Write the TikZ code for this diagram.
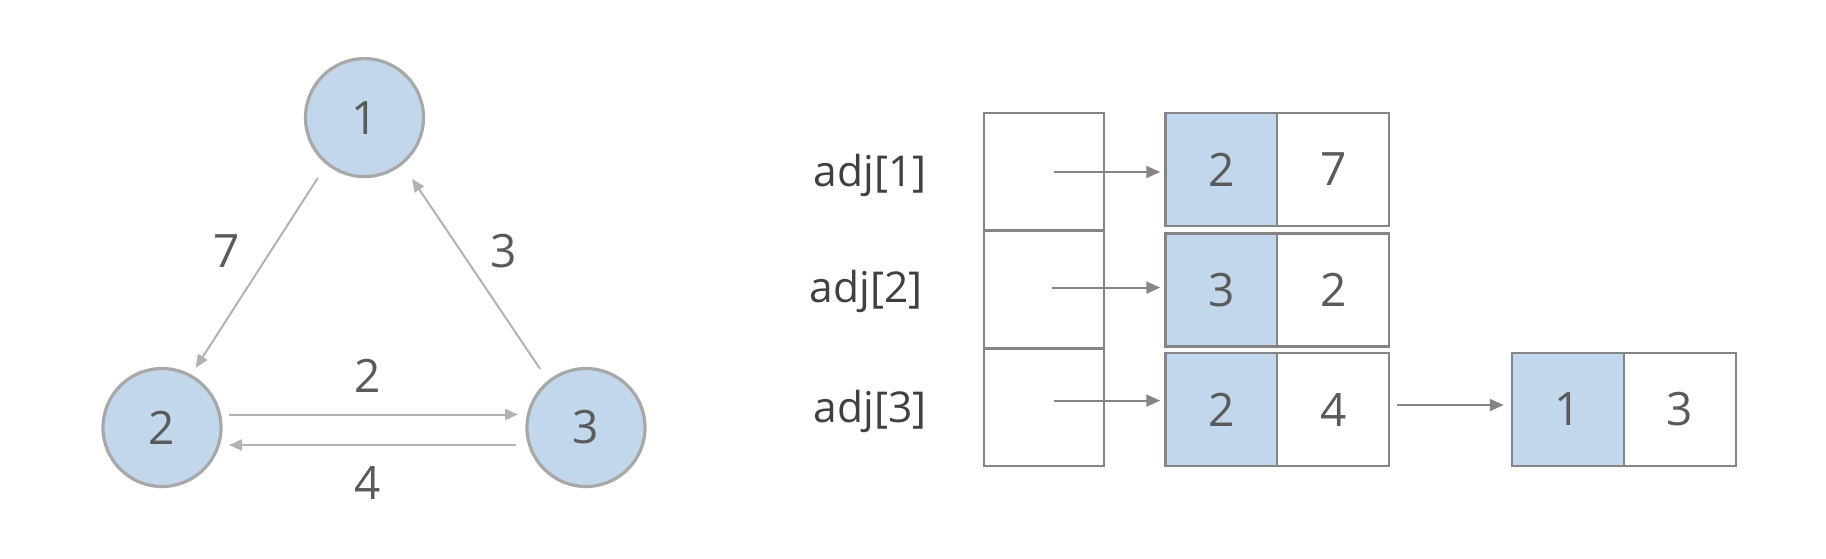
\documentclass[tikz,border=0pt]{standalone}
\usepackage{fontspec}
\setmainfont{Open Sans}
\usetikzlibrary{arrows.meta}
\definecolor{cfill}{HTML}{C3D7EC}
\definecolor{cdraw}{HTML}{A8A8A8}
\definecolor{edgec}{HTML}{B2B2B2}
\definecolor{boxc}{HTML}{858585}
\definecolor{txtc}{HTML}{5A5A5A}
\definecolor{lblc}{HTML}{404040}
\tikzset{
  gnode/.style={circle,draw=cdraw,fill=cfill,line width=3.2pt,minimum size=118pt,inner sep=0pt,
    text=txtc,font=\fontsize{46}{52}\selectfont},
  gedge/.style={draw=edgec,line width=2pt,-{Triangle[length=13pt,width=11pt]}},
  wlabel/.style={text=txtc,font=\fontsize{46}{52}\selectfont,inner sep=0pt},
  headbox/.style={rectangle,draw=boxc,line width=2.5pt,minimum width=120pt,minimum height=117.5pt,inner sep=0pt},
  cellA/.style={rectangle,draw=boxc,fill=cfill,line width=2.5pt,minimum width=112pt,minimum height=113pt,inner sep=0pt,
    text=txtc,font=\fontsize{46}{52}\selectfont},
  cellB/.style={cellA,fill=white},
  larrow/.style={draw=boxc,line width=2pt,-{Triangle[length=14pt,width=12pt]}},
  adjlabel/.style={text=lblc,font=\fontsize{42.5}{48}\selectfont,inner sep=0pt}
}
\begin{document}
\begin{tikzpicture}[x=1pt,y=-1pt]
\useasboundingbox (0,0) rectangle (1826,558);
% graph
\node[gnode] (n1) at (364.5,117.6) {1};
\node[gnode] (n2) at (162,427.5) {2};
\node[gnode] (n3) at (586,427.5) {3};
\draw[gedge,shorten <=16pt,shorten >=8pt] (n1.231) -- (n2.61);
\draw[gedge,shorten <=14pt,shorten >=17pt] (n3.129) -- (n1.309);
\draw[gedge] ([xshift=67pt,yshift=13pt]n2.center) -- ([xshift=-68pt,yshift=13pt]n3.center);
\draw[gedge] ([xshift=-70pt,yshift=-17.5pt]n3.center) -- ([xshift=67pt,yshift=-17.5pt]n2.center);
\node[wlabel] (w7) at (227,251.5) {7};
\node[wlabel] (w3) at (504,251.5) {3};
\node[wlabel] (w2) at (368,376) {2};
\node[wlabel] (w4) at (368,483) {4};
% adjacency list
\node[headbox] (h1) at (1044,171.75) {};
\node[headbox] (h2) at (1044,289.25) {};
\node[headbox] (h3) at (1044,407) {};
\node[adjlabel] (l1) at (870,175.5) {adj[1]};
\node[adjlabel] (l2) at (866,291) {adj[2]};
\node[adjlabel] (l3) at (870,411) {adj[3]};
\node[cellA] (a1) at (1221.5,169.5) {2};
\node[cellB] (b1) at (1333.2,169.5) {7};
\node[cellA] (a2) at (1221.5,290) {3};
\node[cellB] (b2) at (1333.2,290) {2};
\node[cellA] (a3) at (1221.5,409.5) {2};
\node[cellB] (b3) at (1333.2,409.5) {4};
\node[cellA] (d1) at (1568,409.5) {1};
\node[cellB] (e1) at (1680,409.5) {3};
\coordinate (s1) at (1054,172);
\coordinate (s2) at (1052,287.6);
\coordinate (s3) at (1054,400.6);
\draw[larrow,shorten >=4pt] (s1) -- (s1 -| a1.west);
\draw[larrow,shorten >=4pt] (s2) -- (s2 -| a2.west);
\draw[larrow,shorten >=4pt] (s3) -- (s3 -| a3.west);
\coordinate (s4) at (1397,405);
\draw[larrow,shorten >=7pt] (s4) -- (s4 -| d1.west);
\end{tikzpicture}
\end{document}
